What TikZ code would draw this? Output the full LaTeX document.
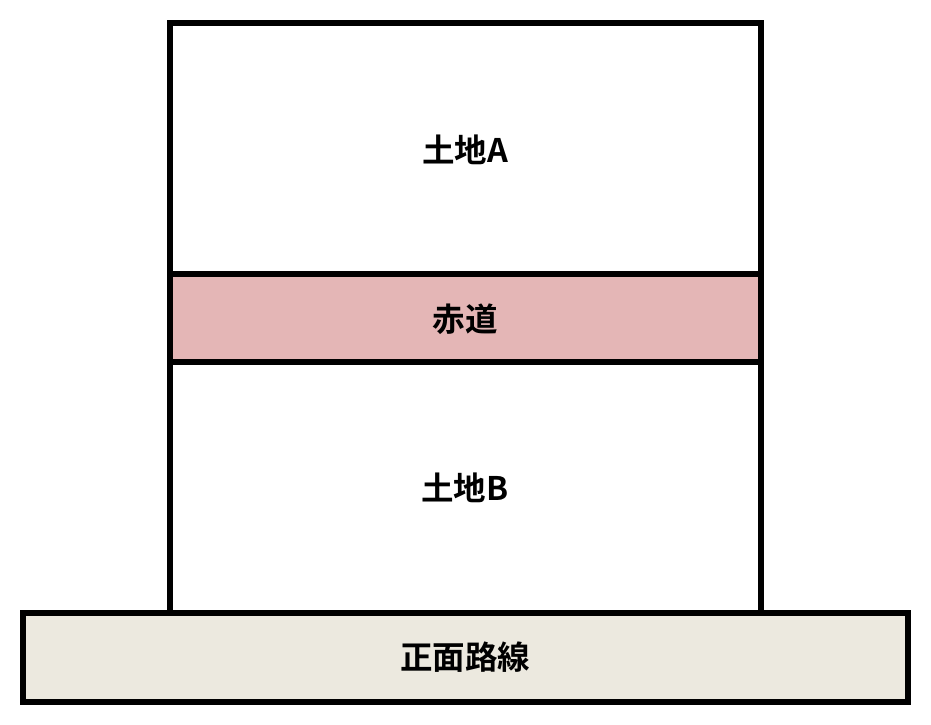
\documentclass[tikz,border=0pt]{standalone}
\usepackage{fontspec}
\newfontfamily\jpfont{Noto Sans CJK JP}[BoldFont={* Bold}]
\definecolor{akamichi}{RGB}{228,182,182}
\definecolor{road}{RGB}{236,233,223}
\tikzset{
  lot/.style={draw=black,line width=6pt},
  lbl/.style={font=\jpfont\bfseries\fontsize{32.5}{32.5}\selectfont}
}
\begin{document}
\begin{tikzpicture}[x=1pt,y=-1pt]
\useasboundingbox (0,0) rectangle (931,725);

\fill[fill=white,lot] (170,23) rectangle (760.5,274);

\fill[fill=akamichi,lot] (170,274) rectangle (760.5,362);

\fill[fill=white,lot] (170,362) rectangle (760.5,613);

\fill[fill=road,lot] (23,613) rectangle (908,702);


\node[lbl] (tochiA) at (465,150) {土地A};
\node[lbl] (akamichi) at (465,319) {赤道};
\node[lbl] (tochiB) at (465,488) {土地B};
\node[lbl] (shomen) at (465,657) {正面路線};
\end{tikzpicture}
\end{document}
